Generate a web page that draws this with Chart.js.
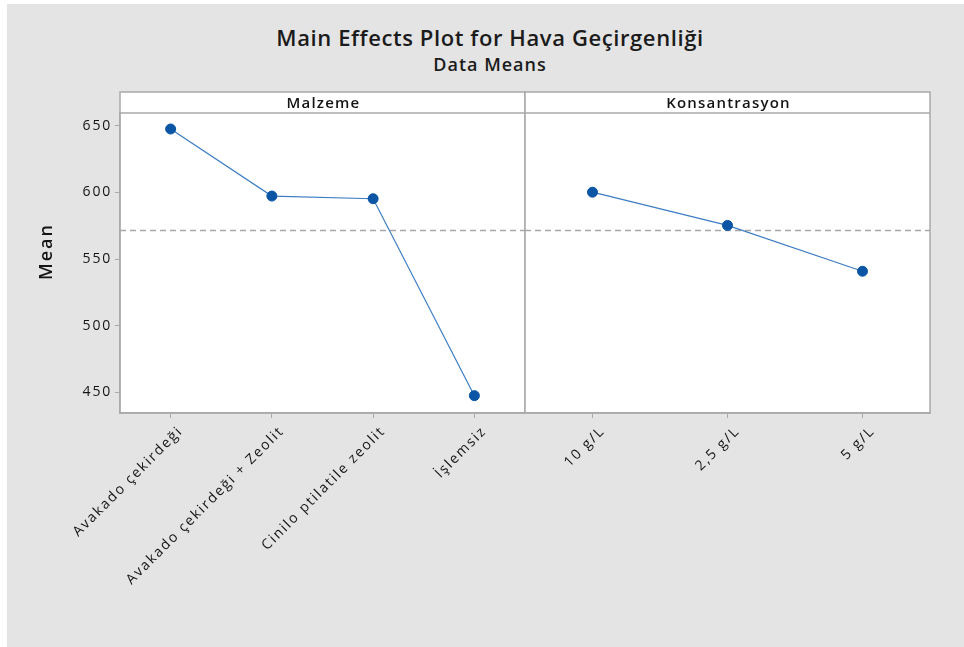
<!DOCTYPE html>
<html>
<head>
<meta charset="utf-8">
<script src="https://cdn.jsdelivr.net/npm/chart.js@4/dist/chart.umd.min.js"></script>
<style>
  html, body { margin:0; padding:0; background:#ffffff; width:964px; height:647px; overflow:hidden; }
  #bg { position:absolute; left:7px; top:4px; width:957px; height:643px; background:#e4e4e4; }
  .ttl { position:absolute; left:190px; width:600px; text-align:center; color:#1b1b1b; font-family:"Open Sans", "Noto Sans", sans-serif; white-space:nowrap; }
  #t1 { top:22px; font-size:22px; line-height:30px; font-weight:600; letter-spacing:0.6px; }
  #t2 { top:52px; font-size:18px; line-height:24px; font-weight:600; letter-spacing:1px; }
  canvas { position:absolute; left:0; top:0; }
</style>
</head>
<body>
<div id="bg"></div>
<div id="t1" class="ttl">Main Effects Plot for Hava Geçirgenliği</div>
<div id="t2" class="ttl">Data Means</div>
<canvas id="c1" width="964" height="647"></canvas>
<canvas id="c2" width="964" height="647"></canvas>
<script>
// ---- data ----
const malzemeLabels = ["Avakado çekirdeği", "Avakado çekirdeği + Zeolit", "Cinilo ptilatile zeolit", "İşlemsiz"];
const malzemeMeans = [647.5, 597.2, 595.2, 447.5];
const konsLabels = ["10 g/L", "2,5 g/L", "5 g/L"];
const konsMeans = [600.1, 575.2, 540.8];
const grandMean = 571.9;
const panelTitles = ["Malzeme", "Konsantrasyon"];
const yAxisTitle = "Mean";
const yMin = 434.5, yMax = 659.5;
const yTickValues = [450, 500, 550, 600, 650];

// ---- style ----
const FONT = '"Open Sans", "Noto Sans", sans-serif';
const TEXT = '#141414';
const FRAME = '#a9a9a9';
const LINE = '#3d7dc3';
const MARK = '#0b55a5';
const HEADER_TOP = 92;

const panelPlugin = {
  id: 'panel',
  beforeDraw(chart, args, opts) {
    const {ctx, chartArea: a} = chart;
    ctx.save();
    ctx.fillStyle = '#ffffff';
    ctx.fillRect(a.left, HEADER_TOP, a.right - a.left, a.bottom - HEADER_TOP);
    ctx.restore();
    ctx.letterSpacing = '1.8px';
  },
  beforeDatasetsDraw(chart, args, opts) {
    const {ctx, chartArea: a, scales} = chart;
    const y = scales.y.getPixelForValue(opts.refValue);
    ctx.save();
    ctx.strokeStyle = '#a8a8a8';
    ctx.lineWidth = 1.3;
    ctx.setLineDash([6, 4]);
    ctx.beginPath();
    ctx.moveTo(a.left, Math.round(y) + 0.5);
    ctx.lineTo(a.right, Math.round(y) + 0.5);
    ctx.stroke();
    ctx.restore();
  },
  afterDraw(chart, args, opts) {
    const {ctx, chartArea: a} = chart;
    ctx.save();
    ctx.strokeStyle = FRAME;
    ctx.lineWidth = 1.5;
    ctx.strokeRect(a.left, HEADER_TOP, a.right - a.left, a.bottom - HEADER_TOP);
    ctx.beginPath();
    ctx.moveTo(a.left, a.top);
    ctx.lineTo(a.right, a.top);
    ctx.stroke();
    ctx.fillStyle = TEXT;
    ctx.letterSpacing = '1.2px';
    ctx.font = '600 15px ' + FONT;
    ctx.textAlign = 'center';
    ctx.textBaseline = 'middle';
    ctx.fillText(opts.title, (a.left + a.right) / 2 + 1, (HEADER_TOP + a.top) / 2 + 1);
    if (opts.yTitle) {
      ctx.translate(46.5, (HEADER_TOP + a.bottom) / 2);
      ctx.rotate(-Math.PI / 2);
      ctx.letterSpacing = '2px';
      ctx.font = '600 18px ' + FONT;
      ctx.fillText(opts.yTitle, 1, 0);
    }
    ctx.restore();
  }
};

function makeChart(id, labels, values, padding, showY, title, yTitle) {
  return new Chart(document.getElementById(id), {
    type: 'line',
    data: {
      labels: labels,
      datasets: [{
        data: values,
        borderColor: LINE,
        borderWidth: 1.2,
        backgroundColor: MARK,
        pointBackgroundColor: MARK,
        pointBorderColor: MARK,
        pointBorderWidth: 1,
        pointRadius: 5,
        pointStyle: 'circle',
        tension: 0,
        fill: false
      }]
    },
    options: {
      responsive: false,
      animation: false,
      devicePixelRatio: 1,
      layout: { padding: padding },
      plugins: {
        legend: { display: false },
        tooltip: { enabled: false },
        title: { display: false },
        panel: { refValue: grandMean, title: title, yTitle: yTitle }
      },
      scales: {
        x: {
          type: 'category',
          offset: true,
          grid: { display: true, drawOnChartArea: false, drawTicks: true, tickLength: 5, color: FRAME },
          border: { display: true, color: FRAME, width: 1.5 },
          ticks: { minRotation: 45, maxRotation: 45, autoSkip: false, padding: 5, labelOffset: 10, color: TEXT, font: { family: FONT, size: 14 } },
          afterFit(scale) { scale.height = 647 - 413; }
        },
        y: {
          display: showY,
          min: yMin,
          max: yMax,
          afterBuildTicks(scale) { scale.ticks = yTickValues.map(v => ({ value: v })); },
          grid: { display: true, drawOnChartArea: false, drawTicks: true, tickLength: 5, color: FRAME },
          border: { display: true, color: FRAME, width: 1.5 },
          ticks: { padding: 3, color: TEXT, font: { family: FONT, size: 14 } },
          afterFit(scale) { if (showY) scale.width = 120; }
        }
      }
    },
    plugins: [panelPlugin]
  });
}

makeChart('c1', malzemeLabels, malzemeMeans, { top: 113, left: 0, right: 964 - 525, bottom: 0 }, true, panelTitles[0], yAxisTitle);
makeChart('c2', konsLabels, konsMeans, { top: 113, left: 525, right: 964 - 930, bottom: 0 }, false, panelTitles[1], null);
</script>
</body>
</html>
